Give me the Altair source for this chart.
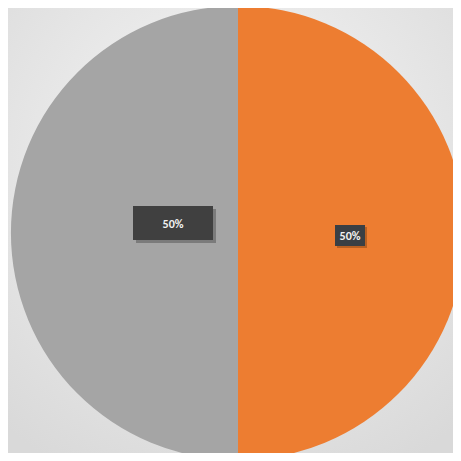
import altair as alt
import pandas as pd

categories = ["Series A", "Series B"]
values = [50, 50]
labels = ["50%", "50%"]
colors = ["#ED7D31", "#A5A5A5"]

df = pd.DataFrame({"category": categories, "value": values, "label": labels,
                   "order": [0, 1]})

W = 445
H = 445
CX = 230
CY = 225
R = 227

base = alt.Chart(df)

bg = alt.Chart(pd.DataFrame({"a": [0]})).mark_rect(
    color=alt.Gradient(
        gradient="radial",
        x1=0.5, y1=0.35, r1=0.0,
        x2=0.5, y2=0.35, r2=0.75,
        stops=[alt.GradientStop(color="#f7f7f7", offset=0),
               alt.GradientStop(color="#d9d9d9", offset=1)],
    )
).encode(x=alt.value(-10), x2=alt.value(W + 10), y=alt.value(-10), y2=alt.value(H + 10))

shadows = []
for i, (dr, op) in enumerate([(7, 0.04), (5, 0.05), (3, 0.07), (1.5, 0.09)]):
    shadows.append(
        alt.Chart(pd.DataFrame({"v": [1]})).mark_arc(color="#888888", opacity=op).encode(
            theta=alt.Theta("v:Q"),
            x=alt.value(CX + 2), y=alt.value(CY + 2),
            radius=alt.value(R + dr),
        )
    )

pie = base.mark_arc().encode(
    theta=alt.Theta("value:Q", stack=True),
    order=alt.Order("order:Q"),
    color=alt.Color("category:N", scale=alt.Scale(domain=categories, range=colors), legend=None),
    x=alt.value(CX), y=alt.value(CY),
    radius=alt.value(R),
)

# label boxes (decorative annotation)
box_shadow_left = alt.Chart(pd.DataFrame({"a": [0]})).mark_rect(color="#000000", opacity=0.25).encode(
    x=alt.value(128), x2=alt.value(208), y=alt.value(201), y2=alt.value(235))
box_left = alt.Chart(pd.DataFrame({"a": [0]})).mark_rect(color="#404040").encode(
    x=alt.value(125), x2=alt.value(205), y=alt.value(198), y2=alt.value(232))
box_shadow_right = alt.Chart(pd.DataFrame({"a": [0]})).mark_rect(color="#5a2a08", opacity=0.35).encode(
    x=alt.value(329), x2=alt.value(359), y=alt.value(219), y2=alt.value(240))
box_right = alt.Chart(pd.DataFrame({"a": [0]})).mark_rect(color="#3a3f44").encode(
    x=alt.value(327), x2=alt.value(357), y=alt.value(217), y2=alt.value(238))

text_left = base.transform_filter(alt.datum.category == categories[1]).mark_text(
    color="#f2f2f2", fontSize=12, fontWeight="bold", font="Calibri, Carlito, Liberation Sans, sans-serif"
).encode(text="label:N", x=alt.value(165), y=alt.value(216))

text_right = base.transform_filter(alt.datum.category == categories[0]).mark_text(
    color="#f2f2f2", fontSize=12, fontWeight="bold", font="Calibri, Carlito, Liberation Sans, sans-serif"
).encode(text="label:N", x=alt.value(342), y=alt.value(228))

chart = alt.layer(bg, *shadows, pie, box_shadow_left, box_left, box_shadow_right, box_right,
                  text_left, text_right).properties(
    width=W, height=H, padding=0, autosize=alt.AutoSizeParams(type="none"),
    background="#e6e6e6",
).configure_view(stroke=None)

chart.save("out.html", embed_options={"renderer": "svg", "actions": False})
